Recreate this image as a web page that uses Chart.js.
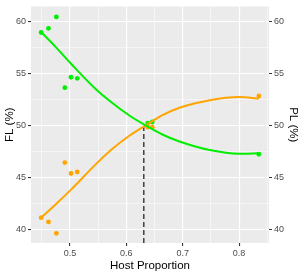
<!DOCTYPE html>
<html>
<head>
<meta charset="utf-8">
<script src="https://cdn.jsdelivr.net/npm/chart.js@4"></script>
<style>
  html, body { margin: 0; padding: 0; background: #fff; }
  #wrap { width: 300px; height: 271px; }
</style>
</head>
<body>
<div id="wrap"><canvas id="c"></canvas></div>
<script>
// observed points
var hostProp = [0.449, 0.462, 0.476, 0.491, 0.502, 0.513, 0.638, 0.646, 0.835];
var flValues = [58.9, 59.3, 60.4, 53.6, 54.6, 54.5, 50.2, 50.3, 47.2];
var plValues = [41.1, 40.7, 39.6, 46.4, 45.35, 45.5, 49.8, 49.8, 52.8];

// smoothed fits
var fitX = [0.449, 0.475, 0.502, 0.547, 0.577, 0.606, 0.635, 0.664, 0.693, 0.748, 0.8, 0.835];
var flFit = [58.95, 57.5, 55.9, 53.4, 52.05, 50.9, 49.95, 49.1, 48.45, 47.6, 47.25, 47.3];
var plFit = [41.1, 42.4, 43.8, 46.3, 47.8, 49.0, 50.0, 50.95, 51.65, 52.4, 52.7, 52.55];

// crossing
var crossX = 0.631;
var crossY = 49.95;

var xTicks = [0.45, 0.5, 0.55, 0.6, 0.65, 0.7, 0.75, 0.8, 0.85];
var xLabels = [0.5, 0.6, 0.7, 0.8];
var yTicks = [40, 42.5, 45, 47.5, 50, 52.5, 55, 57.5, 60];
var yLabels = [40, 45, 50, 55, 60];

var xMin = 0.431, xMax = 0.853, yMin = 38.67, yMax = 61.4;

function pts(xs, ys) {
  var out = [];
  for (var i = 0; i < xs.length; i++) out.push({x: xs[i], y: ys[i]});
  return out;
}

function isMajor(v, list) {
  for (var i = 0; i < list.length; i++) if (Math.abs(list[i] - v) < 1e-6) return true;
  return false;
}

var panelBg = {
  id: 'panelBg',
  beforeDraw: function (chart) {
    var a = chart.chartArea, ctx = chart.ctx;
    ctx.save();
    ctx.fillStyle = '#EBEBEB';
    ctx.fillRect(a.left, a.top, a.right - a.left, a.bottom - a.top);
    ctx.restore();
  }
};

function gridOpts(labels) {
  return {
    color: '#FFFFFF',
    lineWidth: function (c) { return c.tick && isMajor(c.tick.value, labels) ? 1.1 : 0.5; },
    tickColor: function (c) { return c.tick && isMajor(c.tick.value, labels) ? '#333333' : 'rgba(0,0,0,0)'; },
    tickLength: 3,
    drawTicks: true
  };
}

var tickFont = {family: 'Liberation Sans, Arial, sans-serif', size: 9, lineHeight: 1};
var titleFont = {family: 'Liberation Sans, Arial, sans-serif', size: 11.5, lineHeight: 1};

function yAxis(pos, title, showGrid, titlePad) {
  return {
    type: 'linear',
    position: pos,
    min: yMin, max: yMax,
    afterBuildTicks: function (axis) { axis.ticks = yTicks.map(function (v) { return {value: v}; }); },
    afterFit: function (s) { s.width = 31; },
    grid: showGrid ? gridOpts(yLabels) : {display: true, drawOnChartArea: false, tickColor: function (c) { return isMajor(c.tick.value, yLabels) ? '#333333' : 'rgba(0,0,0,0)'; }, tickLength: 3},
    border: {display: false},
    ticks: {
      color: '#4D4D4D', font: tickFont, padding: 2, autoSkip: false,
      callback: function (v) { return isMajor(v, yLabels) ? String(v) : ''; }
    },
    title: {display: true, text: title, color: '#000', font: titleFont, padding: titlePad}
  };
}

new Chart(document.getElementById('c'), {
  type: 'scatter',
  data: {
    datasets: [
      {data: pts(fitX, flFit), showLine: true, borderColor: '#00EE00', borderWidth: 2, pointRadius: 0, cubicInterpolationMode: 'monotone', fill: false},
      {data: pts(fitX, plFit), showLine: true, borderColor: '#FFA500', borderWidth: 2, pointRadius: 0, cubicInterpolationMode: 'monotone', fill: false},
      {data: pts([crossX, crossX], [yMin, crossY]), showLine: true, borderColor: '#333333', borderWidth: 1.4, borderDash: [5, 3], pointRadius: 0},
      {data: pts(hostProp, flValues), backgroundColor: '#00EE00', borderWidth: 0, pointRadius: 2.4},
      {data: pts(hostProp, plValues), backgroundColor: '#FFA500', borderWidth: 0, pointRadius: 2.4}
    ]
  },
  options: {
    responsive: true,
    maintainAspectRatio: false,
    animation: false,
    layout: {padding: {left: 0, right: 0, top: 3, bottom: 0}},
    plugins: {legend: {display: false}, tooltip: {enabled: false}},
    scales: {
      x: {
        type: 'linear',
        min: xMin, max: xMax,
        afterBuildTicks: function (axis) { axis.ticks = xTicks.map(function (v) { return {value: v}; }); },
        afterFit: function (s) { s.height = 28; },
        grid: gridOpts(xLabels),
        border: {display: false},
        ticks: {
          color: '#4D4D4D', font: tickFont, padding: 3, autoSkip: false, maxRotation: 0,
          callback: function (v) { return isMajor(v, xLabels) ? String(v) : ''; }
        },
        title: {display: true, text: 'Host Proportion', color: '#000', font: titleFont, padding: {top: 0, bottom: -1}}
      },
      y: yAxis('left', 'FL (%)', true, {top: 4, bottom: 0}),
      y2: yAxis('right', 'PL (%)', false, {top: 1, bottom: 0})
    }
  },
  plugins: [panelBg]
});
</script>
</body>
</html>
